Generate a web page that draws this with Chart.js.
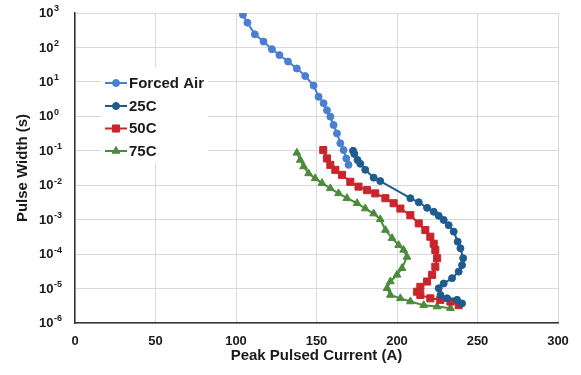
<!DOCTYPE html>
<html>
<head>
<meta charset="utf-8">
<script src="https://cdn.jsdelivr.net/npm/chart.js@4.4.1/dist/chart.umd.min.js"></script>
<style>
  html, body { margin: 0; padding: 0; background: #fff; }
  #wrap { width: 581px; height: 375px; }
</style>
</head>
<body>
<div id="wrap"><canvas id="pulseChart"></canvas></div>
<script>
// axis ticks
const currentTicks = [0, 50, 100, 150, 200, 250, 300];
const widthExponents = [-6, -5, -4, -3, -2, -1, 0, 1, 2, 3];

// series: peak current (A) vs pulse width (s)
const seriesNames = ['Forced Air', '25C', '50C', '75C'];

const forcedAirCurrent = [104.3, 107.1, 111.7, 117.1, 122.3, 127.0, 132.3, 137.8, 143.0, 148.2, 151.3, 154.4, 156.5, 158.6, 160.6, 162.7, 164.8, 166.8, 168.5, 169.9];
const forcedAirWidth = [890, 525, 240, 148, 89, 60, 39, 24.5, 14.8, 7.8, 3.7, 2.4, 1.5, 0.98, 0.56, 0.32, 0.166, 0.105, 0.06, 0.039];

const c25Current = [172.7, 173.5, 175.5, 177.2, 180.3, 185.5, 189.6, 208.3, 213.5, 218.7, 222.8, 225.9, 229.0, 232.1, 235.2, 237.7, 239.4, 241.1, 240.4, 238.3, 234.2, 229.0, 225.9, 227.0, 231.1, 237.3, 240.4];
const c25Width = [0.1, 0.081, 0.054, 0.042, 0.028, 0.0166, 0.0132, 0.0042, 0.0032, 0.0022, 0.0017, 0.0013, 0.00098, 0.00069, 0.00045, 0.00023, 0.000148, 7.6e-5, 4.8e-5, 3.1e-5, 2.0e-5, 1.4e-5, 1.02e-5, 6.5e-6, 5.2e-6, 4.7e-6, 3.7e-6];

const c50Current = [154.2, 156.5, 158.6, 161.7, 165.8, 171.0, 176.1, 181.4, 186.5, 192.8, 197.9, 202.1, 208.3, 213.5, 217.6, 220.7, 222.8, 223.8, 224.9, 223.8, 221.8, 218.7, 214.5, 212.5, 214.5, 220.7, 226.9, 233.2, 238.3];
const c50Width = [0.105, 0.06, 0.039, 0.028, 0.02, 0.0126, 0.0091, 0.0072, 0.0058, 0.0042, 0.003, 0.0021, 0.00135, 0.00078, 0.0005, 0.00032, 0.0002, 0.000132, 7.6e-5, 4.3e-5, 2.5e-5, 1.6e-5, 1.12e-5, 8.1e-6, 6.5e-6, 5.2e-6, 4.7e-6, 4.2e-6, 3.3e-6];

const c75Current = [137.8, 139.9, 142.0, 145.1, 149.2, 153.4, 158.6, 163.7, 168.9, 175.2, 180.3, 185.5, 189.6, 192.8, 196.9, 201.0, 204.1, 206.2, 203.1, 200.0, 195.9, 193.8, 195.9, 202.1, 208.3, 216.6, 224.9, 233.2];
const c75Width = [0.087, 0.054, 0.035, 0.022, 0.0158, 0.0115, 0.0081, 0.0058, 0.0042, 0.003, 0.0021, 0.0015, 0.00102, 0.0005, 0.00029, 0.000182, 0.000132, 8.3e-5, 3.9e-5, 2.5e-5, 1.6e-5, 1.02e-5, 6.5e-6, 5.2e-6, 4.2e-6, 3.3e-6, 3.0e-6, 2.7e-6];

const FONT = '"Liberation Sans", Arial, sans-serif';
const TEXT = '#1a1a1a';

const zip = (xs, ys) => xs.map((x, i) => ({ x: x, y: ys[i] }));

const makeSet = (label, xs, ys, color, style, radius) => ({
  label: label,
  data: zip(xs, ys),
  showLine: true,
  borderColor: color,
  backgroundColor: color,
  borderWidth: 2,
  pointStyle: style,
  pointRadius: radius,
  pointBorderWidth: 1,
  pointBackgroundColor: color,
  pointBorderColor: color,
  tension: 0,
});

// y tick labels as 10 with a raised exponent
const powerLabels = {
  id: 'powerLabels',
  afterDraw(chart) {
    const ctx = chart.ctx;
    const y = chart.scales.y;
    ctx.save();
    ctx.fillStyle = TEXT;
    ctx.textAlign = 'left';
    ctx.textBaseline = 'middle';
    widthExponents.forEach((e) => {
      const py = y.getPixelForValue(Math.pow(10, e));
      ctx.font = 'bold 13px ' + FONT;
      ctx.fillText('10', 39, py + 0.5);
      const w = ctx.measureText('10').width;
      ctx.font = 'bold 9px ' + FONT;
      ctx.fillText(e < 0 ? '-' + Math.abs(e) : String(e), 39 + w + 0.5, py - 4);
    });
    ctx.restore();
  },
};

// boxed legend sitting inside the plot, top left
const boxLegend = {
  id: 'boxLegend',
  afterDatasetsDraw(chart) {
    const ctx = chart.ctx;
    const rows = [83, 106, 128.5, 151];
    ctx.save();
    ctx.fillStyle = '#ffffff';
    ctx.fillRect(101, 67, 107, 96);
    chart.data.datasets.forEach((ds, i) => {
      const yy = rows[i];
      ctx.strokeStyle = ds.borderColor;
      ctx.lineWidth = 2;
      ctx.beginPath();
      ctx.moveTo(105, yy);
      ctx.lineTo(127, yy);
      ctx.stroke();
      ctx.fillStyle = ds.pointBackgroundColor;
      ctx.lineWidth = 1;
      Chart.helpers.drawPoint(ctx, { pointStyle: ds.pointStyle, radius: ds.pointRadius, rotation: 0, borderWidth: 1 }, 116, yy);
      ctx.fillStyle = TEXT;
      ctx.font = 'bold 15px ' + FONT;
      ctx.textAlign = 'left';
      ctx.textBaseline = 'middle';
      ctx.fillText(ds.label, 129, yy + 0.5);
    });
    ctx.restore();
  },
};

new Chart(document.getElementById('pulseChart'), {
  type: 'scatter',
  data: {
    datasets: [
      makeSet(seriesNames[0], forcedAirCurrent, forcedAirWidth, '#4a7fd0', 'circle', 3.5),
      makeSet(seriesNames[1], c25Current, c25Width, '#1f5b8e', 'circle', 3.5),
      makeSet(seriesNames[2], c50Current, c50Width, '#c9252c', 'rect', 5),
      makeSet(seriesNames[3], c75Current, c75Width, '#4b8b3b', 'triangle', 4.5),
    ],
  },
  options: {
    responsive: true,
    maintainAspectRatio: false,
    animation: false,
    layout: { padding: { top: 13, right: 23, bottom: 0, left: 0 } },
    plugins: {
      legend: { display: false },
      tooltip: { enabled: false },
    },
    scales: {
      x: {
        type: 'linear',
        min: 0,
        max: 300,
        afterBuildTicks: (s) => { s.ticks = currentTicks.map((v) => ({ value: v })); },
        afterFit: (s) => { s.height = 52; },
        grid: { color: '#d9d9d9', lineWidth: 1, drawTicks: false },
        border: { color: '#333333', width: 1.5 },
        ticks: { color: TEXT, padding: 11, maxRotation: 0, font: { family: FONT, size: 13, weight: 'bold' } },
        title: {
          display: true,
          text: 'Peak Pulsed Current (A)',
          color: TEXT,
          padding: { top: 0, bottom: 10 },
          font: { family: FONT, size: 15, weight: 'bold' },
        },
      },
      y: {
        type: 'logarithmic',
        min: 1e-6,
        max: 1e3,
        afterBuildTicks: (s) => { s.ticks = widthExponents.map((e) => ({ value: Math.pow(10, e) })); },
        afterFit: (s) => { s.width = 75; },
        grid: { color: '#d9d9d9', lineWidth: 1, drawTicks: false },
        border: { color: '#333333', width: 1.5 },
        ticks: { display: false },
        title: {
          display: true,
          text: 'Pulse Width (s)',
          color: TEXT,
          padding: { top: 14, bottom: 0 },
          font: { family: FONT, size: 15, weight: 'bold' },
        },
      },
    },
  },
  plugins: [powerLabels, boxLegend],
});
</script>
</body>
</html>
